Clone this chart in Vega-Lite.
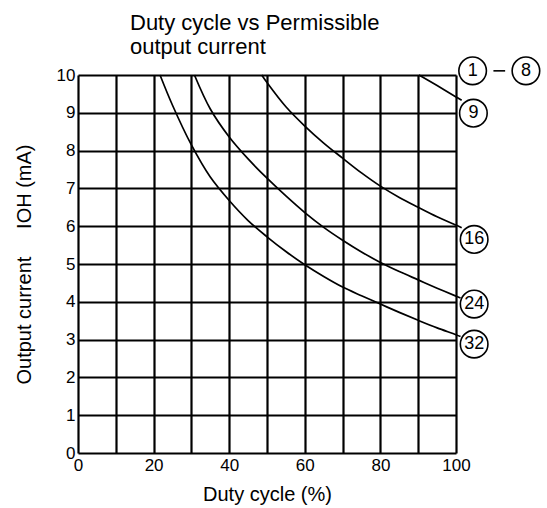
{
  "$schema": "https://vega.github.io/schema/vega-lite/v6.json",
  "width": 378,
  "height": 378,
  "autosize": {"type": "none"},
  "padding": {"left": 78, "top": 75, "right": 91, "bottom": 55},
  "background": "white",
  "config": {"view": {"stroke": null}, "font": "Liberation Sans"},
  "title": {
    "text": ["Duty cycle vs Permissible", "output current"],
    "anchor": "start",
    "frame": "group",
    "dx": 52,
    "dy": 27,
    "offset": 22,
    "fontSize": 22,
    "fontWeight": "normal",
    "font": "Liberation Sans",
    "color": "black",
    "lineHeight": 24
  },
  "datasets": {
    "curves": [
      {"curve": "9", "x": 90.2, "y": 10},
      {"curve": "9", "x": 95, "y": 9.72},
      {"curve": "9", "x": 100, "y": 9.42},
      {"curve": "9", "x": 101.5, "y": 9.33},
      {"curve": "16", "x": 48.6, "y": 10},
      {"curve": "16", "x": 50, "y": 9.8},
      {"curve": "16", "x": 55, "y": 9.16},
      {"curve": "16", "x": 60, "y": 8.65},
      {"curve": "16", "x": 65, "y": 8.2},
      {"curve": "16", "x": 70, "y": 7.8},
      {"curve": "16", "x": 75, "y": 7.41},
      {"curve": "16", "x": 80, "y": 7.06},
      {"curve": "16", "x": 85, "y": 6.76},
      {"curve": "16", "x": 90, "y": 6.5},
      {"curve": "16", "x": 95, "y": 6.25},
      {"curve": "16", "x": 100, "y": 6.03},
      {"curve": "16", "x": 101.5, "y": 5.96},
      {"curve": "24", "x": 30.8, "y": 10},
      {"curve": "24", "x": 35, "y": 9.1},
      {"curve": "24", "x": 40, "y": 8.36},
      {"curve": "24", "x": 45, "y": 7.78},
      {"curve": "24", "x": 50, "y": 7.27},
      {"curve": "24", "x": 55, "y": 6.8},
      {"curve": "24", "x": 60, "y": 6.36},
      {"curve": "24", "x": 65, "y": 5.97},
      {"curve": "24", "x": 70, "y": 5.63},
      {"curve": "24", "x": 75, "y": 5.32},
      {"curve": "24", "x": 80, "y": 5.04},
      {"curve": "24", "x": 85, "y": 4.8},
      {"curve": "24", "x": 90, "y": 4.58},
      {"curve": "24", "x": 95, "y": 4.36},
      {"curve": "24", "x": 100, "y": 4.15},
      {"curve": "24", "x": 101.2, "y": 4.1},
      {"curve": "32", "x": 21.7, "y": 10},
      {"curve": "32", "x": 25, "y": 9.2},
      {"curve": "32", "x": 30, "y": 8.15},
      {"curve": "32", "x": 35, "y": 7.3},
      {"curve": "32", "x": 40, "y": 6.68},
      {"curve": "32", "x": 45, "y": 6.15},
      {"curve": "32", "x": 50, "y": 5.72},
      {"curve": "32", "x": 55, "y": 5.33},
      {"curve": "32", "x": 60, "y": 4.98},
      {"curve": "32", "x": 65, "y": 4.67},
      {"curve": "32", "x": 70, "y": 4.39},
      {"curve": "32", "x": 75, "y": 4.16},
      {"curve": "32", "x": 80, "y": 3.94},
      {"curve": "32", "x": 85, "y": 3.72},
      {"curve": "32", "x": 90, "y": 3.51},
      {"curve": "32", "x": 95, "y": 3.31},
      {"curve": "32", "x": 100, "y": 3.13},
      {"curve": "32", "x": 101.2, "y": 3.08}
    ],
    "labels": [
      {"label": "1", "x": 104.4, "y": 10.11},
      {"label": "8", "x": 118.5, "y": 10.11},
      {"label": "9", "x": 104.6, "y": 8.99},
      {"label": "16", "x": 104.8, "y": 5.65},
      {"label": "24", "x": 104.8, "y": 3.94},
      {"label": "32", "x": 104.8, "y": 2.88}
    ],
    "dash": [
      {"x": 109.9, "x2": 113.0, "y": 10.11}
    ]
  },
  "encoding": {
    "x": {
      "field": "x",
      "type": "quantitative",
      "scale": {"domain": [0, 100], "nice": false, "zero": false},
      "axis": {
        "values": [0, 10, 20, 30, 40, 50, 60, 70, 80, 90, 100],
        "labelExpr": "datum.value % 20 === 0 ? datum.label : ''",
        "grid": true,
        "gridColor": "black",
        "gridWidth": 2.2,
        "gridOpacity": 1,
        "ticks": false,
        "domain": false,
        "labelFont": "Liberation Sans",
        "labelFontSize": 17,
        "labelColor": "black",
        "labelPadding": 4,
        "labelFlush": false,
        "labelOverlap": false,
        "title": "Duty cycle (%)",
        "titleFont": "Liberation Sans",
        "titleFontSize": 20,
        "titleFontWeight": "normal",
        "titleColor": "black",
        "titleX": 189,
        "titleY": 47,
        "titleAlign": "center",
        "titleBaseline": "alphabetic"
      }
    },
    "y": {
      "field": "y",
      "type": "quantitative",
      "scale": {"domain": [0, 10], "nice": false, "zero": false},
      "axis": {
        "values": [0, 1, 2, 3, 4, 5, 6, 7, 8, 9, 10],
        "grid": true,
        "gridColor": "black",
        "gridWidth": 2.2,
        "gridOpacity": 1,
        "ticks": false,
        "domain": false,
        "labelFont": "Liberation Sans",
        "labelFontSize": 17,
        "labelColor": "black",
        "labelPadding": 3,
        "labelOverlap": false,
        "title": "Output current\u00a0\u00a0\u00a0\u00a0\u00a0IOH (mA)",
        "titleFont": "Liberation Sans",
        "titleFontSize": 20,
        "titleFontWeight": "normal",
        "titleColor": "black",
        "titleX": -48,
        "titleY": 189,
        "titleAngle": -90,
        "titleAlign": "center",
        "titleBaseline": "alphabetic"
      }
    }
  },
  "layer": [
    {
      "data": {"name": "curves"},
      "mark": {"type": "line", "color": "black", "strokeWidth": 1.7, "interpolate": "catmull-rom"},
      "encoding": {"detail": {"field": "curve", "type": "nominal"}}
    },
    {
      "data": {"name": "dash"},
      "mark": {"type": "rule", "color": "black", "strokeWidth": 1.6},
      "encoding": {"x2": {"field": "x2"}}
    },
    {
      "data": {"name": "labels"},
      "mark": {"type": "point", "shape": "circle", "size": 760, "filled": true, "fill": "white", "stroke": "black", "strokeWidth": 1.6, "opacity": 1}
    },
    {
      "data": {"name": "labels"},
      "mark": {"type": "text", "font": "Liberation Sans", "fontSize": 18, "color": "black", "align": "center", "baseline": "middle"},
      "encoding": {"text": {"field": "label"}}
    }
  ]
}
